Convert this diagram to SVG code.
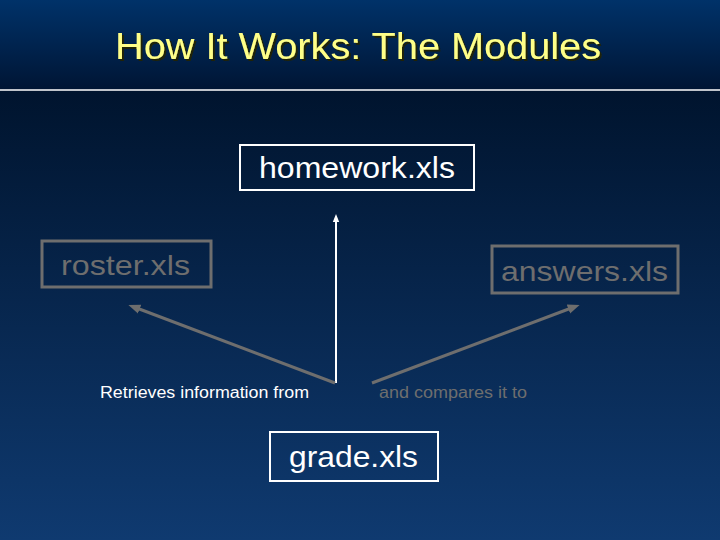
<svg xmlns="http://www.w3.org/2000/svg" width="720" height="540" viewBox="0 0 720 540">
<defs>
<linearGradient id="hg" x1="0" y1="0" x2="0" y2="1"><stop offset="0" stop-color="#003269"/><stop offset="1" stop-color="#001534"/></linearGradient>
<linearGradient id="bg" x1="0" y1="0" x2="0" y2="1"><stop offset="0" stop-color="#00142e"/><stop offset="1" stop-color="#0f3a70"/></linearGradient>
<filter id="sh" x="-5%" y="-20%" width="110%" height="140%"><feDropShadow dx="2" dy="2" stdDeviation="0.5" flood-color="#222200" flood-opacity="0.9"/></filter>
<marker id="ag" viewBox="0 0 10 10" refX="5" refY="5" markerWidth="4" markerHeight="4" orient="auto-start-reverse"><path d="M0,1 L10,5 L0,9 Z" fill="#6e6e6e"/></marker>
<marker id="aw" viewBox="0 0 10 10" refX="5" refY="5" markerWidth="4" markerHeight="4" orient="auto-start-reverse"><path d="M0,1 L10,5 L0,9 Z" fill="#ffffff"/></marker>
<style>
.t{font-family:"Liberation Sans",Arial,sans-serif}
.wb{fill:none;stroke:#ffffff;stroke-width:2}
.gb{fill:none;stroke:#6e6e6e;stroke-width:3}
</style>
</defs>
<rect x="0" y="0" width="720" height="90" fill="url(#hg)"/>
<rect x="0" y="90" width="720" height="450" fill="url(#bg)"/>
<line x1="0" y1="90" x2="720" y2="90" stroke="#ffffff" stroke-width="1.5"/>
<text class="t" x="115" y="59" font-size="36" fill="#ffff88" filter="url(#sh)" textLength="486" lengthAdjust="spacingAndGlyphs">How It Works: The Modules</text>
<g id="homework"><rect class="wb" x="240" y="145" width="234" height="45"/><text class="t" x="259" y="178" font-size="29" fill="#ffffff" textLength="196" lengthAdjust="spacingAndGlyphs">homework.xls</text></g>
<g id="roster"><rect class="gb" x="42" y="241" width="169" height="46"/><text class="t" x="61" y="275" font-size="28" fill="#6e6e6e" textLength="129" lengthAdjust="spacingAndGlyphs">roster.xls</text></g>
<g id="answers"><rect class="gb" x="492" y="246" width="186" height="47"/><text class="t" x="501" y="281" font-size="28" fill="#6e6e6e" textLength="167" lengthAdjust="spacingAndGlyphs">answers.xls</text></g>
<g id="grade"><rect class="wb" x="270" y="432" width="168" height="49"/><text class="t" x="289" y="467" font-size="29" fill="#ffffff" textLength="129" lengthAdjust="spacingAndGlyphs">grade.xls</text></g>
<g id="connectors">
<line x1="336" y1="383" x2="336" y2="218" stroke="#ffffff" stroke-width="2" marker-end="url(#aw)"/>
<line x1="335" y1="383" x2="134" y2="307" stroke="#6e6e6e" stroke-width="3" marker-end="url(#ag)"/>
<line x1="372" y1="383" x2="574" y2="307" stroke="#6e6e6e" stroke-width="3" marker-end="url(#ag)"/>
</g>
<text class="t" x="100" y="398" font-size="16" fill="#ffffff" textLength="209" lengthAdjust="spacingAndGlyphs">Retrieves information from</text>
<text class="t" x="379" y="398" font-size="16" fill="#6e6e6e" textLength="148" lengthAdjust="spacingAndGlyphs">and compares it to</text>
</svg>
